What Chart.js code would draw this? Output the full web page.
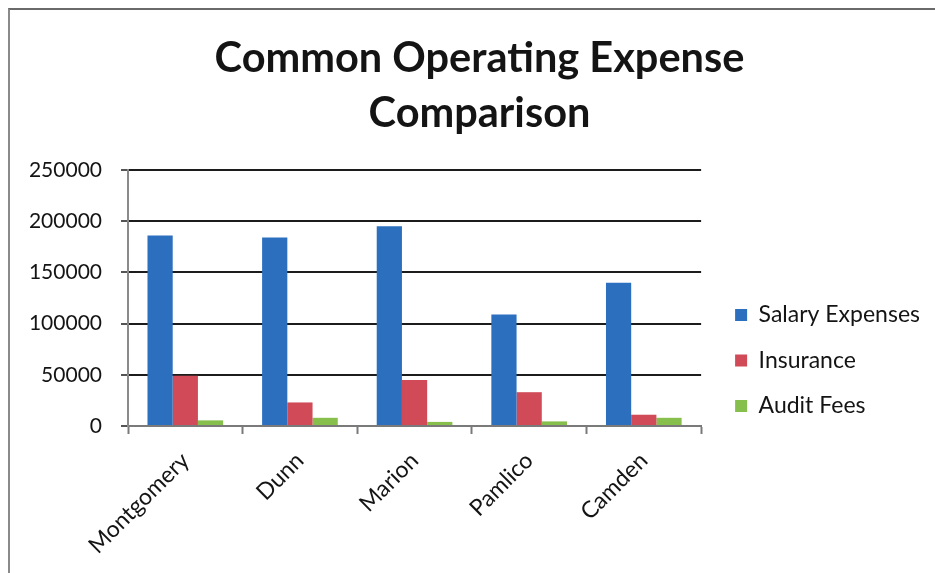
<!DOCTYPE html>
<html>
<head>
<meta charset="utf-8">
<script src="https://cdn.jsdelivr.net/npm/chart.js@4.4.1/dist/chart.umd.min.js"></script>
<style>
  html, body { margin: 0; padding: 0; background: #fff; overflow: hidden; }
  #wrap { position: relative; width: 935px; height: 573px; }
  #frame { position: absolute; left: 8px; top: 8px; width: 960px; height: 620px;
           border-left: 2px solid #8a8a8a; border-top: 2px solid #6a6a6a; }
  canvas { position: absolute; left: 0; top: 0; }
</style>
</head>
<body>
<div id="wrap">
  <div id="frame"></div>
  <canvas id="chart" width="935" height="573"></canvas>
</div>
<script>
// County names along the category axis
const counties = ['Montgomery', 'Dunn', 'Marion', 'Pamlico', 'Camden'];

// Expense series (dollars)
const salaryExpenses = [186000, 184000, 195000, 109000, 140000];
const insurance      = [49000, 23000, 45000, 33000, 11000];
const auditFees      = [5500, 8000, 4000, 4500, 8000];

// Value axis tick labels
const yTicks = [0, 50000, 100000, 150000, 200000, 250000];

const FONT = 'Lato, "Open Sans", sans-serif';
const INK = '#141414';

new Chart(document.getElementById('chart'), {
  type: 'bar',
  data: {
    labels: counties,
    datasets: [
      { label: 'Salary Expenses', data: salaryExpenses, backgroundColor: '#2c6fbe' },
      { label: 'Insurance',       data: insurance,      backgroundColor: '#d04a57' },
      { label: 'Audit Fees',      data: auditFees,      backgroundColor: '#86bf4c' }
    ]
  },
  options: {
    responsive: false,
    animation: false,
    devicePixelRatio: 1,
    categoryPercentage: 0.66,
    barPercentage: 1.0,
    layout: { padding: { top: 10, left: 29, right: 5, bottom: 10 } },
    plugins: {
      tooltip: { enabled: false },
      title: {
        display: true,
        text: ['Common Operating Expense', 'Comparison'],
        color: INK,
        font: { family: FONT, size: 41.5, weight: 'bold', lineHeight: 1.33 },
        padding: { top: 21, bottom: 28.6 }
      },
      legend: {
        position: 'right',
        maxWidth: 300,
        title: { display: true, text: '', padding: { top: 138, bottom: 0 }, font: { size: 10, lineHeight: 1 } },
        labels: {
          color: INK,
          font: { family: FONT, size: 23 },
          boxWidth: 12,
          boxHeight: 12,
          padding: 22.5
        }
      }
    },
    scales: {
      x: {
        grid: { drawOnChartArea: false, drawTicks: true, tickLength: 8, tickColor: '#7a7a7a', tickWidth: 2 },
        border: { display: true, color: '#7a7a7a', width: 2 },
        ticks: { color: INK, font: { family: FONT, size: 23 }, minRotation: 45, maxRotation: 45, padding: 13 },
        afterFit: s => { s.height = 137; }
      },
      y: {
        min: 0,
        max: 250000,
        afterBuildTicks: s => { s.ticks = yTicks.map(v => ({ value: v })); },
        grid: { color: '#1c1c1c', lineWidth: 2, tickLength: 7, tickColor: '#555' },
        border: { display: true, color: '#8a8a8a', width: 2 },
        ticks: { color: INK, font: { family: FONT, size: 21 }, padding: 19, callback: v => String(v) },
        afterFit: s => { s.width = 99; }
      },
      gap: {
        position: 'right',
        display: true,
        grid: { display: false },
        border: { display: false },
        ticks: { display: false },
        afterFit: s => { s.width = 11.5; }
      }
    }
  }
});
</script>
</body>
</html>
